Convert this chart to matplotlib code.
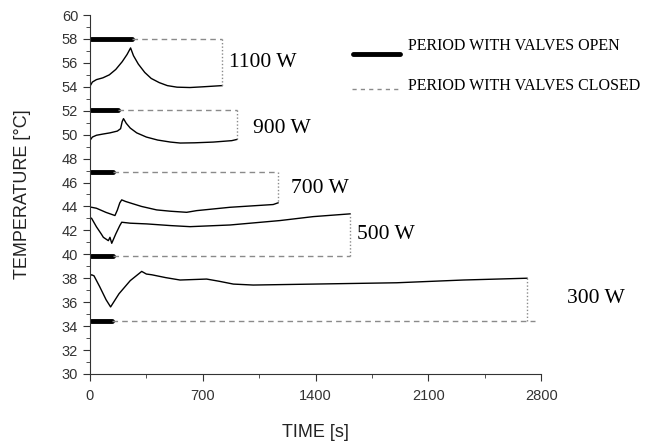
import matplotlib
matplotlib.use("Agg")
import matplotlib.pyplot as plt
from matplotlib.ticker import MultipleLocator

# ---- data ----
t_1100 = [0, 15, 40, 80, 120, 160, 200, 230, 252, 270, 300, 340, 380, 430, 480, 540, 620, 700, 820]
T_1100 = [54.05, 54.4, 54.6, 54.75, 55.0, 55.45, 56.1, 56.7, 57.25, 56.6, 55.9, 55.2, 54.7,
          54.35, 54.1, 53.97, 53.94, 54.0, 54.1]

t_900 = [0, 15, 40, 80, 124, 170, 190, 200, 208, 225, 250, 290, 350, 420, 500, 560, 650, 765, 880, 912]
T_900 = [49.52, 49.8, 49.95, 50.05, 50.15, 50.3, 50.5, 51.1, 51.34, 50.95, 50.55, 50.15, 49.8,
         49.55, 49.38, 49.3, 49.32, 49.38, 49.5, 49.6]

t_700 = [0, 10, 40, 100, 155, 170, 185, 197, 220, 260, 320, 414, 500, 600, 662, 869, 1137, 1167]
T_700 = [43.95, 43.93, 43.85, 43.5, 43.24, 43.7, 44.3, 44.55, 44.42, 44.25, 44.0, 43.71, 43.6,
         43.51, 43.65, 43.93, 44.16, 44.3]

t_500 = [0, 10, 40, 70, 83, 114, 124, 135, 160, 185, 197, 250, 352, 500, 621, 869, 1179, 1386, 1614]
T_500 = [43.05, 43.01, 42.3, 41.7, 41.42, 41.14, 41.42, 40.92, 41.7, 42.4, 42.68, 42.6, 42.54,
         42.4, 42.31, 42.45, 42.82, 43.15, 43.38]

t_300 = [0, 10, 25, 60, 100, 128, 180, 250, 321, 350, 383, 470, 559, 724, 800, 890, 1013,
         1386, 1903, 2317, 2712]
T_300 = [38.2, 38.29, 38.2, 37.3, 36.2, 35.6, 36.7, 37.8, 38.57, 38.35, 38.29, 38.05, 37.85,
         37.93, 37.75, 37.51, 37.43, 37.51, 37.62, 37.85, 38.0]

# open-valve periods: (end time, level); closed-valve box end time
open_end = [260, 175, 145, 141, 139]
open_level = [58.0, 52.1, 46.87, 39.88, 34.43]
closed_end = [820, 912, 1167, 1614, 2762]
labels = ["1100 W", "900 W", "700 W", "500 W", "300 W"]
label_pos = [(863, 56.06), (1012, 50.53), (1248, 45.5), (1657, 41.64), (2961, 36.28)]

curves = [(t_1100, T_1100), (t_900, T_900), (t_700, T_700), (t_500, T_500), (t_300, T_300)]

# ---- plot ----
fig = plt.figure(figsize=(6.45, 4.42), dpi=100)
ax = fig.add_axes([0.1395, 0.154, 0.6995, 0.812])

serif = "Liberation Serif"
sans = "Liberation Sans"
gray = "#8a8a8a"

for (t, T), oe, ol, ce, lab, lp in zip(curves, open_end, open_level, closed_end, labels, label_pos):
    ax.plot(t, T, color="black", lw=1.0)
    ax.plot([8, oe], [ol, ol], color="black", lw=3.5, solid_capstyle="round")
    ax.plot([oe, ce], [ol, ol], color=gray, lw=1.0, ls=(0, (4, 3)), clip_on=False)
    xv = t[-1] if ce - t[-1] < 60 else ce
    ax.plot([xv, xv], [ol, T[-1]], color=gray, lw=1.0, ls=(0, (1, 1.5)), clip_on=False)
    ax.text(lp[0], lp[1], lab, family=serif, fontsize=15.5, va="center", ha="left",
            clip_on=False)

ax.set_xlim(0, 2800)
ax.set_ylim(30, 60)
ax.xaxis.set_major_locator(MultipleLocator(700))
ax.xaxis.set_minor_locator(MultipleLocator(350))
ax.yaxis.set_major_locator(MultipleLocator(2))
ax.yaxis.set_minor_locator(MultipleLocator(1))
for s in ["top", "right"]:
    ax.spines[s].set_visible(False)
for s in ["left", "bottom"]:
    ax.spines[s].set_color("#333333")
ax.tick_params(which="major", direction="out", length=5, color="#333333",
               labelsize=10.5, labelcolor="#333333")
ax.tick_params(axis="x", which="major", pad=6)
ax.tick_params(which="minor", direction="out", length=3, color="#333333")
for lbl in ax.get_xticklabels() + ax.get_yticklabels():
    lbl.set_family(sans)
ax.set_xlabel("TIME [s]", family=sans, fontsize=13, color="#222222", labelpad=15)
ax.set_ylabel("TEMPERATURE [°C]", family=sans, fontsize=13, color="#222222", labelpad=22)

# legend drawn in figure coords
fig.lines.append(plt.Line2D([353 / 645, 400 / 645], [1 - 54 / 442, 1 - 54 / 442],
                            transform=fig.transFigure, color="black", lw=3.5,
                            solid_capstyle="round"))
fig.text(408 / 645, 1 - 46 / 442, "PERIOD WITH VALVES OPEN", family=serif, fontsize=11.5,
         va="center", ha="left")
fig.lines.append(plt.Line2D([352 / 645, 400 / 645], [1 - 89 / 442, 1 - 89 / 442],
                            transform=fig.transFigure, color=gray, lw=1.0,
                            ls=(0, (3, 3))))
fig.text(408 / 645, 1 - 86 / 442, "PERIOD WITH VALVES CLOSED", family=serif, fontsize=11.5,
         va="center", ha="left")

fig.savefig("out.png", dpi=100)
